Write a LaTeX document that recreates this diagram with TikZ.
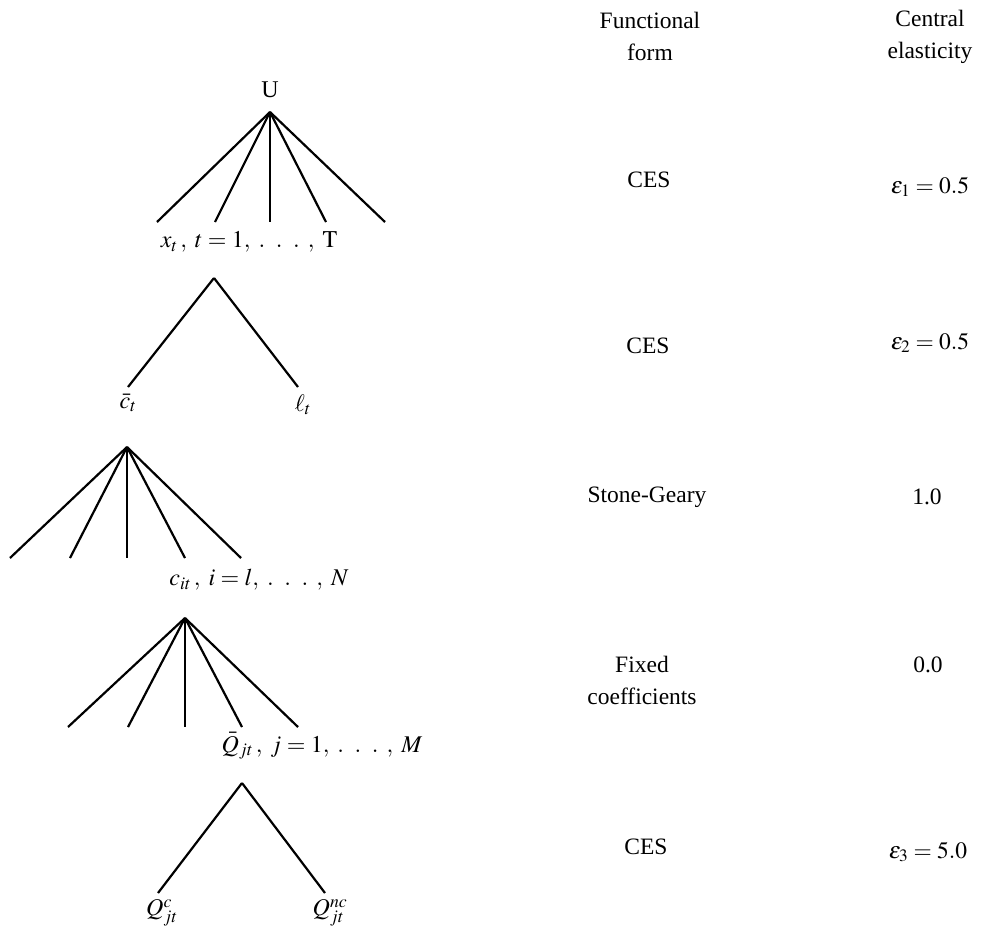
\documentclass[tikz,border=0pt]{standalone}
\usepackage{mathptmx}
\usepackage[no-math]{fontspec}
\setmainfont{Liberation Serif}
\newcommand{\wdots}{.\;\;.\;\;.\;\,}
\begin{document}
\begin{tikzpicture}[x=1pt,y=-1pt,
  br/.style={line width=2.2pt},
  lbl/.style={inner sep=0pt,font=\fontsize{24}{28}\selectfont},
  col/.style={inner sep=0pt,align=center,font=\fontsize{23.5}{32}\selectfont}]
\useasboundingbox (0,0) rectangle (982,938);
% tree 1
\coordinate (a1) at (270,112);
\node[lbl] (U) at (270,90) {U};
\foreach \i/\x in {1/157,2/215,3/270,4/326,5/385}{\coordinate (l1\i) at (\x,222);}
\foreach \i in {1,...,5}{\draw[br] (a1) -- (l1\i);}
\node[lbl] (x) at (249,242) {$x_t\,,\; t = 1,\; \wdots,\;\mathrm{T}$};
% tree 2
\coordinate (a2) at (214,278);
\coordinate (l21) at (128,387);
\coordinate (l22) at (298,387);
\draw[br] (a2) -- (l21);
\draw[br] (a2) -- (l22);
\node[lbl] (cb) at (128,403) {$\bar{c}_t$};
\node[lbl] (ell) at (303,405) {$\ell_t$};
% tree 3
\coordinate (a3) at (127,447);
\foreach \i/\x in {1/10,2/70,3/127,4/185,5/241}{\coordinate (l3\i) at (\x,558);}
\foreach \i in {1,...,5}{\draw[br] (a3) -- (l3\i);}
\node[lbl] (c) at (259,580) {$c_{it}\,,\; i = l,\; \wdots,\; N$};
% tree 4
\coordinate (a4) at (185,618);
\foreach \i/\x in {1/68,2/128,3/185,4/242,5/298}{\coordinate (l4\i) at (\x,727);}
\foreach \i in {1,...,5}{\draw[br] (a4) -- (l4\i);}
\node[lbl] (Q) at (322,746) {$\bar{Q}_{jt}\,,\; j = 1,\; \wdots,\; M$};
% tree 5
\coordinate (a5) at (242,783);
\coordinate (l51) at (158,893);
\coordinate (l52) at (325,893);
\draw[br] (a5) -- (l51);
\draw[br] (a5) -- (l52);
\node[lbl] (Qc) at (162,913) {$Q^{c}_{jt}$};
\node[lbl] (Qnc) at (330,913) {$Q^{nc}_{jt}$};
% right columns
\node[col] (h1) at (650,36) {Functional\\form};
\node[col] (h2) at (930,37) {Central\\elasticity};
\node[col] (f1) at (649,180) {CES};
\node[col] (e1) at (930,187) {$\varepsilon_1 = 0.5$};
\node[col] (f2) at (648,346) {CES};
\node[col] (e2) at (930,343) {$\varepsilon_2 = 0.5$};
\node[col] (f3) at (647,497) {Stone-Geary};
\node[col] (e3) at (927,497) {1.0};
\node[col] (f4) at (642,680) {Fixed\\coefficients};
\node[col] (e4) at (928,665) {0.0};
\node[col] (f5) at (646,847) {CES};
\node[col] (e5) at (928,852) {$\varepsilon_3 = 5.0$};
\end{tikzpicture}
\end{document}
